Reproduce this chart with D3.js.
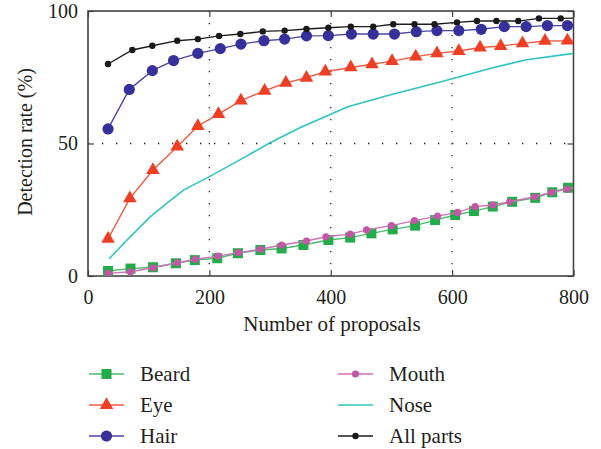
<!DOCTYPE html>
<html lang="en">
<head>
<meta charset="UTF-8" />
<title>Detection rate</title>
<script src="https://d3js.org/d3.v7.min.js"></script>
<style>
  body { margin: 0; background: #fff; }
  svg text { font-family: "Liberation Serif", "DejaVu Serif", serif !important; fill: #231f20; }
</style>
</head>
<body>
<div id="chart"></div>
<script>
// x = number of proposals, y = detection rate (%)
// last entry (x = 800) is only where the line runs to the frame, no marker there
var beardX = [33, 70, 107, 145, 176, 213, 247, 284, 319, 355, 396, 432, 467, 502, 539, 572, 605, 636, 667, 699, 737, 765, 791, 800];
var beardY = [1.9, 2.8, 3.3, 4.8, 6.0, 6.7, 8.6, 9.8, 10.4, 11.7, 13.6, 14.5, 16.1, 17.6, 19.0, 21.1, 23.0, 24.5, 26.2, 28.0, 29.5, 31.6, 33.3, 33.8];

var eyeX = [33, 69, 107, 147, 181, 215, 252, 291, 326, 360, 391, 433, 468, 501, 540, 575, 611, 646, 680, 716, 753, 790, 800];
var eyeY = [14.0, 29.3, 40.0, 48.8, 56.6, 61.1, 66.2, 69.9, 72.9, 74.8, 77.1, 78.7, 79.9, 81.1, 82.8, 84.0, 84.9, 86.2, 86.8, 87.8, 88.7, 88.8, 89.0];

var hairX = [33, 68, 106, 141, 181, 218, 252, 290, 324, 360, 396, 434, 470, 505, 541, 575, 611, 648, 686, 722, 757, 790, 800];
var hairY = [55.5, 70.4, 77.5, 81.3, 84.0, 85.8, 87.5, 88.8, 89.4, 90.6, 90.7, 91.3, 91.3, 91.3, 92.2, 92.6, 92.6, 93.1, 94.1, 94.1, 94.5, 94.5, 94.7];

var mouthX = [33, 70, 107, 147, 177, 214, 248, 284, 319, 360, 392, 432, 459, 500, 538, 576, 609, 638, 667, 695, 736, 764, 790, 800];
var mouthY = [1.0, 1.6, 3.1, 5.0, 6.3, 7.5, 8.8, 10.1, 11.7, 13.2, 14.8, 15.8, 17.4, 19.0, 20.9, 22.6, 24.0, 26.2, 26.8, 28.0, 29.9, 31.6, 32.8, 33.2];

var noseX = [35, 64, 102, 130, 158, 200, 251, 300, 350, 400, 428, 500, 582, 664, 720, 800];
var noseY = [6.5, 13.5, 22.2, 27.5, 32.5, 37.5, 43.9, 50.3, 56.0, 61.0, 63.9, 68.5, 73.3, 78.4, 81.5, 84.0];

var allX = [33, 73, 106, 147, 181, 216, 251, 288, 324, 360, 396, 433, 470, 503, 538, 571, 608, 641, 673, 709, 743, 779, 800];
var allY = [80.0, 85.3, 86.9, 88.8, 89.4, 90.6, 91.3, 92.3, 92.6, 93.2, 93.7, 94.1, 94.1, 95.0, 95.0, 95.0, 95.7, 96.2, 96.2, 96.2, 97.2, 97.2, 97.3];

var xTicks = [0, 200, 400, 600, 800];
var yTicks = [0, 50, 100];

var series = [
  { name: "Beard", xs: beardX, ys: beardY, line: "#4cbb6c", fill: "#22ac4a", marker: "square" },
  { name: "Eye", xs: eyeX, ys: eyeY, line: "#f05a42", fill: "#ee3f24", marker: "triangle" },
  { name: "Hair", xs: hairX, ys: hairY, line: "#4a45a8", fill: "#35309a", marker: "bigdot" },
  { name: "Mouth", xs: mouthX, ys: mouthY, line: "#d070b8", fill: "#c456a6", marker: "dot" },
  { name: "Nose", xs: noseX, ys: noseY, line: "#2ec4c0", fill: "#2ec4c0", marker: "none" },
  { name: "All parts", xs: allX, ys: allY, line: "#1e1e1e", fill: "#1a1a1a", marker: "smalldot" }
];

var w = 601, h = 449;
var font = "'Liberation Serif', 'DejaVu Serif', serif";
var x = d3.scaleLinear().domain([0, 800]).range([88, 573.5]);
var y = d3.scaleLinear().domain([0, 100]).range([276, 11]);

var svg = d3.select("#chart").append("svg").attr("width", w).attr("height", h)
  .attr("font-family", font);

svg.append("clipPath").attr("id", "clip")
  .append("rect").attr("x", 88).attr("y", 11).attr("width", 485.5).attr("height", 265);

// dotted grid
var grid = svg.append("g");
grid.selectAll("line.gx").data(xTicks.slice(1, -1)).enter().append("line")
  .attr("x1", d => x(d)).attr("x2", d => x(d)).attr("y1", y(100)).attr("y2", y(0))
  .attr("stroke", "#231f20").attr("stroke-width", 1.3).attr("stroke-dasharray", "1.3,10.7");
grid.selectAll("line.gy").data(yTicks.slice(1, -1)).enter().append("line")
  .attr("x1", x(0)).attr("x2", x(800)).attr("y1", d => y(d)).attr("y2", d => y(d))
  .attr("stroke", "#231f20").attr("stroke-width", 1.3).attr("stroke-dasharray", "1.3,12.7");

// axes with inward ticks, no labels on top/right
function ax(gen, tr) {
  var g = svg.append("g").attr("transform", tr).call(gen).attr("font-family", font);
  g.select(".domain").remove();
  g.selectAll("line").attr("stroke", "#444").attr("stroke-width", 1.2);
  g.selectAll("text").style("font-size", "20px").style("font-family", font).attr("fill", "#231f20");
  return g;
}
ax(d3.axisBottom(x).tickValues(xTicks).tickSize(-6).tickPadding(14).tickFormat(d3.format("d")), "translate(0,276)");
ax(d3.axisLeft(y).tickValues(yTicks).tickSize(-6).tickPadding(10), "translate(88,0)");
ax(d3.axisTop(x).tickValues(xTicks).tickSize(-6).tickFormat(""), "translate(0,11)");
ax(d3.axisRight(y).tickValues(yTicks).tickSize(-6).tickFormat(""), "translate(573.5,0)");

svg.append("rect").attr("x", 88).attr("y", 11).attr("width", 485.5).attr("height", 265)
  .attr("fill", "none").attr("stroke", "#444").attr("stroke-width", 1.6);

function drawMarker(g, type, color) {
  if (type === "square") g.append("rect").attr("x", -5).attr("y", -5).attr("width", 10).attr("height", 10).attr("fill", color);
  else if (type === "triangle") g.append("path").attr("d", d3.symbol(d3.symbolTriangle, 80)()).attr("fill", color);
  else if (type === "bigdot") g.append("circle").attr("r", 5.6).attr("fill", color);
  else if (type === "dot") g.append("circle").attr("r", 3.6).attr("fill", color);
  else if (type === "smalldot") g.append("circle").attr("r", 3.2).attr("fill", color);
}

var line = d3.line().x(d => x(d[0])).y(d => y(d[1]));
var plot = svg.append("g").attr("clip-path", "url(#clip)");

series.forEach(function (s) {
  var pts = s.xs.map((v, i) => [v, s.ys[i]]);
  var g = plot.append("g");
  g.append("path").attr("d", line(pts)).attr("fill", "none")
    .attr("stroke", s.line).attr("stroke-width", s.marker === "none" ? 1.6 : 1.4);
  if (s.marker !== "none") {
    g.selectAll("g.m").data(pts.filter(p => p[0] < 800)).enter().append("g")
      .attr("transform", p => "translate(" + x(p[0]) + "," + y(p[1]) + ")")
      .each(function () { drawMarker(d3.select(this), s.marker, s.fill); });
  }
});

// axis titles
svg.append("text").attr("x", 332).attr("y", 331).attr("text-anchor", "middle")
  .style("font-size", "21px").style("font-family", font).text("Number of proposals");
svg.append("text").attr("transform", "translate(32,142) rotate(-90)").attr("text-anchor", "middle")
  .style("font-size", "20px").style("font-family", font).text("Detection rate (%)");

// legend
var legX = [89, 338], legY = [374, 405, 436];
series.forEach(function (s, i) {
  var lx = legX[Math.floor(i / 3)], ly = legY[i % 3];
  var g = svg.append("g").attr("transform", "translate(" + lx + "," + ly + ")");
  g.append("line").attr("x1", 0).attr("x2", 35).attr("y1", 0).attr("y2", 0)
    .attr("stroke", s.line).attr("stroke-width", 1.6);
  var m = g.append("g").attr("transform", "translate(17.5,0)");
  drawMarker(m, s.marker, s.fill);
  g.append("text").attr("x", 51).attr("y", 7).style("font-size", "21px").style("font-family", font).text(s.name);
});
</script>
</body>
</html>
